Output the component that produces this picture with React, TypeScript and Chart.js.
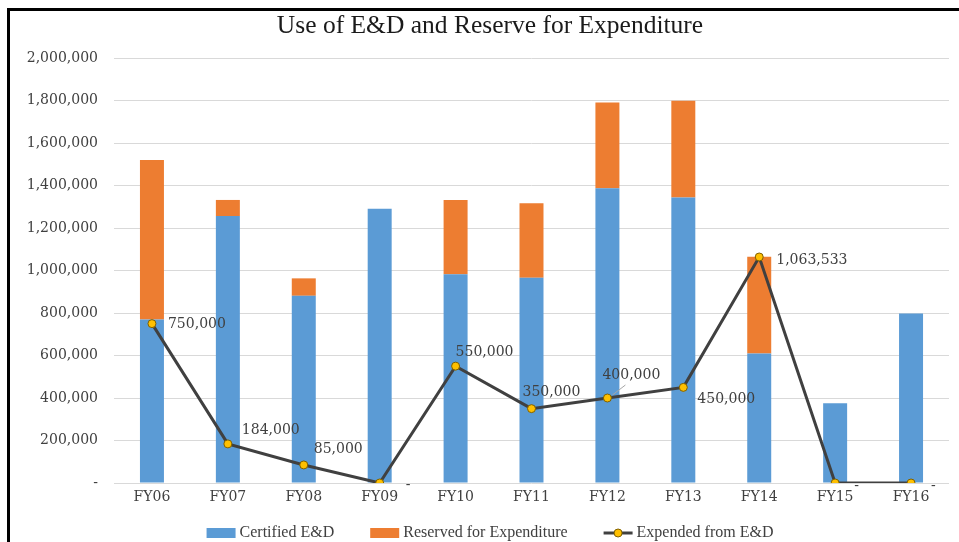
import React, { useEffect, useRef } from "react";
import { Chart, registerables } from "chart.js";

Chart.register(...registerables);

const chartTitle = "Use of E&D and Reserve for Expenditure";
const categories = ["FY06", "FY07", "FY08", "FY09", "FY10", "FY11", "FY12", "FY13", "FY14", "FY15", "FY16"];
const certified = [770000, 1256000, 881000, 1291000, 982000, 966000, 1387000, 1344000, 610000, 375000, 798000];
const reserved = [750000, 76000, 82000, 0, 350000, 350000, 404000, 455000, 455000, 0, 0];
const expended = [750000, 184000, 85000, 0, 550000, 350000, 400000, 450000, 1063533, 0, 0];
const seriesNames = ["Certified E&D", "Reserved for Expenditure", "Expended from E&D"];
const yMax = 2000000;
const yStep = 200000;

// label placement relative to each line point (dx, dy in px)
const labelOffsets: [number, number][] = [
  [16, 1], [14, -14], [10, -16], [26, 2], [0, -14], [-9, -16],
  [-5, -23], [14, 12], [17, 3], [19, 3], [20, 3],
];

const BLUE = "#5B9BD5";
const ORANGE = "#ED7D31";
const LINE = "#404040";
const MARKER = "#FFC000";
const TEXT = "#404040";
const SERIF = "'DejaVu Serif', 'Liberation Serif', serif";

const fmt = (v: number) => (v === 0 ? "-" : v.toLocaleString("en-US"));

const decorPlugin = {
  id: "decor",
  beforeDraw(chart: any) {
    const ctx = chart.ctx;
    ctx.save();
    ctx.fillStyle = "#ffffff";
    ctx.fillRect(0, 0, chart.width, chart.height);
    ctx.restore();
  },
  afterDatasetsDraw(chart: any) {
    const ctx = chart.ctx;
    const meta = chart.getDatasetMeta(2);
    ctx.save();
    ctx.font = `14px ${SERIF}`;
    ctx.fillStyle = TEXT;
    ctx.textAlign = "left";
    ctx.textBaseline = "middle";
    meta.data.forEach((pt: any, i: number) => {
      const [dx, dy] = labelOffsets[i];
      const txt = fmt(expended[i]);
      ctx.fillText(txt, pt.x + dx, pt.y + dy);
      if (i === 6) {
        ctx.strokeStyle = "#a6a6a6";
        ctx.lineWidth = 1;
        ctx.beginPath();
        ctx.moveTo(pt.x + 5, pt.y - 3);
        ctx.lineTo(pt.x + 18, pt.y - 13);
        ctx.stroke();
      }
    });
    ctx.restore();
  },
  afterDraw(chart: any) {
    const ctx = chart.ctx;
    ctx.save();
    // frame
    ctx.fillStyle = "#000000";
    ctx.fillRect(7, 8, 3, chart.height);
    ctx.fillRect(7, 8, chart.width, 3);
    // title
    ctx.fillStyle = "#1a1a1a";
    ctx.font = "25.5px 'Liberation Serif', serif";
    ctx.textAlign = "center";
    ctx.textBaseline = "middle";
    ctx.fillText(chartTitle, 490, 26);
    // legend
    ctx.font = "16px 'Liberation Serif', serif";
    ctx.textBaseline = "middle";
    ctx.textAlign = "left";
    const boxW = 29;
    const gapBox = 4;
    const gapItem = 36;
    const widths = seriesNames.map((n) => ctx.measureText(n).width);
    const total = widths.reduce((a, w) => a + boxW + gapBox + w, 0) + gapItem * (seriesNames.length - 1);
    let x = 490 - total / 2;
    const y = 533;
    seriesNames.forEach((name, i) => {
      if (i < 2) {
        ctx.fillStyle = i === 0 ? BLUE : ORANGE;
        ctx.fillRect(x, y - 5, boxW, 10);
      } else {
        ctx.strokeStyle = LINE;
        ctx.lineWidth = 3;
        ctx.beginPath();
        ctx.moveTo(x, y);
        ctx.lineTo(x + boxW, y);
        ctx.stroke();
        ctx.beginPath();
        ctx.arc(x + boxW / 2, y, 4, 0, Math.PI * 2);
        ctx.fillStyle = MARKER;
        ctx.fill();
        ctx.lineWidth = 1;
        ctx.strokeStyle = "#7f6000";
        ctx.stroke();
      }
      ctx.fillStyle = TEXT;
      ctx.fillText(name, x + boxW + gapBox, y);
      x += boxW + gapBox + widths[i] + gapItem;
    });
    ctx.restore();
  },
};

export default function App() {
  const ref = useRef<HTMLCanvasElement | null>(null);
  useEffect(() => {
    if (!ref.current) return;
    const chart = new Chart(ref.current, {
      type: "bar",
      data: {
        labels: categories,
        datasets: [
          {
            type: "bar",
            label: seriesNames[0],
            data: certified,
            backgroundColor: BLUE,
            stack: "bars",
            order: 1,
            barPercentage: 0.316,
            categoryPercentage: 1,
          },
          {
            type: "bar",
            label: seriesNames[1],
            data: reserved,
            backgroundColor: ORANGE,
            stack: "bars",
            order: 2,
            barPercentage: 0.316,
            categoryPercentage: 1,
          },
          {
            type: "line",
            label: seriesNames[2],
            data: expended,
            borderColor: LINE,
            borderWidth: 3,
            pointRadius: 4,
            pointBackgroundColor: MARKER,
            pointBorderColor: "#7f6000",
            pointBorderWidth: 1,
            stack: "line",
            order: 0,
            tension: 0,
          } as any,
        ],
      },
      options: {
        responsive: false,
        animation: false,
        devicePixelRatio: 1,
        layout: { padding: { top: 58, right: 10, bottom: 0, left: 0 } },
        plugins: {
          legend: { display: false },
          title: { display: false },
          tooltip: { enabled: false },
        },
        scales: {
          x: {
            stacked: true,
            grid: { display: false, drawTicks: false },
            border: { display: false },
            ticks: {
              padding: 6,
              color: TEXT,
              font: { family: SERIF, size: 14 },
            },
            afterFit: (s: any) => {
              s.height = 59;
            },
          },
          y: {
            stacked: true,
            min: 0,
            max: yMax,
            grid: { color: "#d9d9d9", lineWidth: 1, drawTicks: false },
            border: { display: false },
            ticks: {
              stepSize: yStep,
              padding: 16,
              color: TEXT,
              font: { family: SERIF, size: 14 },
              callback: (v: any) => fmt(Number(v)),
            },
            afterFit: (s: any) => {
              s.width = 114;
            },
          },
        },
      },
      plugins: [decorPlugin],
    });
    return () => chart.destroy();
  }, []);
  return (
    <div style={{ position: "fixed", left: 0, top: 0, width: 959, height: 542, background: "#fff" }}>
      <canvas ref={ref} width={959} height={542} style={{ display: "block" }} />
    </div>
  );
}
